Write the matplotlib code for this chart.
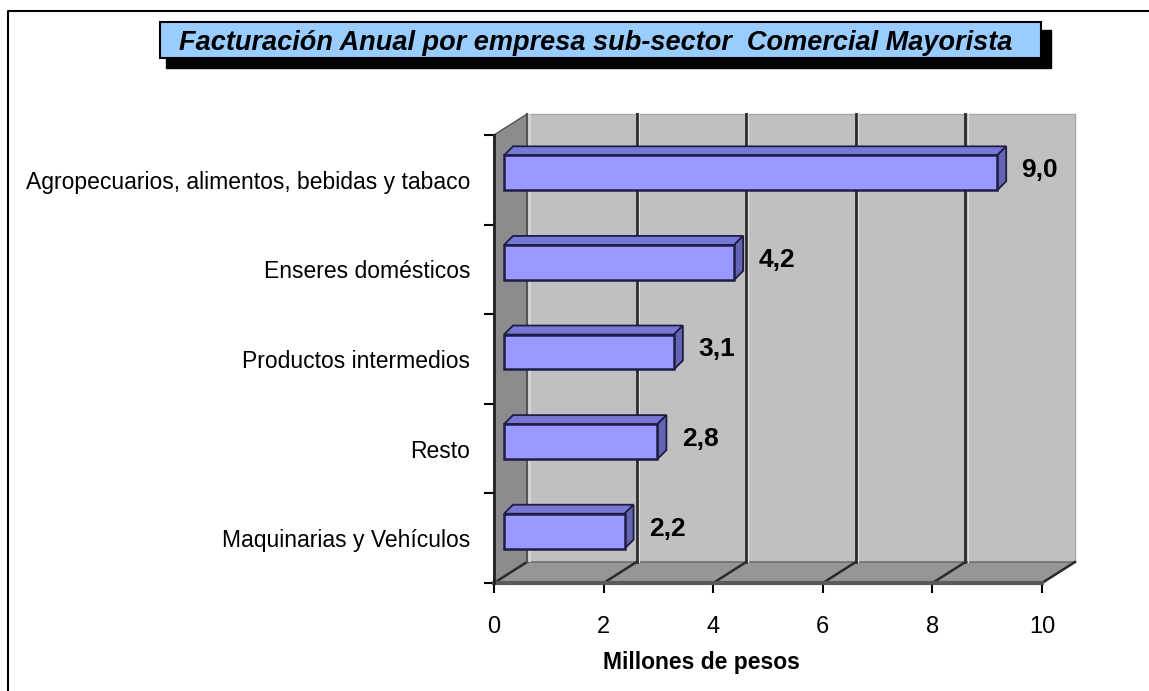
import matplotlib
matplotlib.use("Agg")
import matplotlib.pyplot as plt
from matplotlib.patches import Polygon, Rectangle
import numpy as np

plt.rcParams['font.family'] = ['Liberation Sans', 'DejaVu Sans']

# data, bottom to top
categories = ["Maquinarias y Vehículos", "Resto", "Productos intermedios",
              "Enseres domésticos", "Agropecuarios, alimentos, bebidas y tabaco"]
values = [2.2, 2.8, 3.1, 4.2, 9.0]
value_labels = ["2,2", "2,8", "3,1", "4,2", "9,0"]
x_ticks = [0, 2, 4, 6, 8, 10]
title = "Facturación Anual por empresa sub-sector  Comercial Mayorista"
x_label = "Millones de pesos"

W, H = 1149, 691
fig = plt.figure(figsize=(W / 100, H / 100), dpi=100)

# overlay for frame and title box (pixel coordinates)
deco = fig.add_axes([0, 0, 1, 1])
deco.set_xlim(0, W)
deco.set_ylim(H, 0)
deco.axis("off")
deco.plot([8, 8, W + 5], [H + 5, 11, 11], color="black", lw=1.5)
deco.add_patch(Rectangle((166, 30), 885, 38, facecolor="black", edgecolor="black"))
deco.add_patch(Rectangle((160, 22), 881, 36, facecolor="#99CCFF", edgecolor="black", lw=1.5))
deco.text(596, 42.5, title, ha="center", va="center", fontsize=19.5,
          fontweight="bold", fontstyle="italic")

# front plane of the 3d plot
x0, x1, yb, yt = 494, 1042, 583, 135
ax = fig.add_axes([x0 / W, 1 - yb / H, (x1 - x0) / W, (yb - yt) / H])
ax.set_xlim(0, 10)
ax.set_ylim(-0.5, 4.5)
px_x = (x1 - x0) / 10.0
px_y = (yb - yt) / 5.0
DX, DY = 33 / px_x, 21 / px_y          # wall depth
for s in ax.spines.values():
    s.set_visible(False)
ax.patch.set_alpha(0)

lo, hi = -0.5, 4.5
# back wall
ax.add_patch(Polygon([(DX, lo + DY), (10 + DX, lo + DY), (10 + DX, hi + DY), (DX, hi + DY)],
                     closed=True, facecolor="#C0C0C0", edgecolor="#A8A8A8", lw=1, clip_on=False, zorder=1))
ax.add_patch(Polygon([(DX, lo + DY), (DX + 0.08, lo + DY), (DX + 0.08, hi + DY), (DX, hi + DY)],
                     closed=True, facecolor="#D4D4D4", edgecolor="none", clip_on=False, zorder=1.1))
# left wall
ax.add_patch(Polygon([(0, lo), (DX, lo + DY), (DX, hi + DY), (0, hi)],
                     closed=True, facecolor="#8C8C8C", edgecolor="#555555", lw=1, clip_on=False, zorder=1))
# floor
ax.add_patch(Polygon([(0, lo), (10, lo), (10 + DX, lo + DY), (DX, lo + DY)],
                     closed=True, facecolor="#969696", edgecolor="#666666", lw=1, clip_on=False, zorder=1))

# grid lines on back wall and floor
for t in x_ticks:
    if 0 < t < 10:
        ax.plot([t + DX, t + DX], [lo + DY, hi + DY], color="#2A2A2A", lw=2, clip_on=False, zorder=2)
        ax.plot([t + DX + 0.04, t + DX + 0.04], [lo + DY, hi + DY], color="#E0E0E0", lw=0.8,
                clip_on=False, zorder=2)
    ax.plot([t, t + DX], [lo, lo + DY], color="#2A2A2A", lw=1.8, clip_on=False, zorder=2)
ax.plot([DX, DX], [lo + DY, hi + DY], color="#555555", lw=1.5, clip_on=False, zorder=2)
ax.plot([0, 10], [lo, lo], color="#5A5A5A", lw=3, clip_on=False, zorder=3)
ax.plot([0, 0], [lo, hi], color="#222222", lw=2, clip_on=False, zorder=3)

# 3d bars
bfx, bfy = 10 / px_x, 7 / px_y         # front face offset into the box
bdx, bdy = 9 / px_x, 9 / px_y          # bar depth
bh = 0.39
edge = "#1E1E44"
for i, (v, lab) in enumerate(zip(values, value_labels)):
    xl, xr = bfx, v + bfx
    yl, yh = i - bh / 2 + bfy, i + bh / 2 + bfy
    ax.add_patch(Polygon([(xl, yh), (xr, yh), (xr + bdx, yh + bdy), (xl + bdx, yh + bdy)],
                         closed=True, facecolor="#7777D6", edgecolor=edge, lw=1.3, zorder=4, clip_on=False))
    ax.add_patch(Polygon([(xr, yl), (xr + bdx, yl + bdy), (xr + bdx, yh + bdy), (xr, yh)],
                         closed=True, facecolor="#6464B4", edgecolor=edge, lw=1.3, zorder=4, clip_on=False))
    ax.add_patch(Rectangle((xl, yl), v, bh, facecolor="#9999FF", edgecolor=edge, lw=1.8,
                           zorder=5, clip_on=False))
    ax.text(xr + bdx + 0.28, i + bfy + 0.03, lab, ha="left", va="center", fontsize=19,
            fontweight="bold", zorder=6)

# ticks
ax.set_xticks(x_ticks)
ax.set_xticklabels([str(t) for t in x_ticks], fontsize=17)
ax.tick_params(axis="x", direction="out", length=7, width=1.5, pad=17)
ax.set_yticks(np.arange(-0.5, 5, 1.0))
ax.set_yticklabels([])
ax.set_yticks(np.arange(len(categories)), minor=True)
ax.set_yticklabels(categories, minor=True, fontsize=16.5)
ax.tick_params(axis="y", which="major", direction="out", length=7, width=1.5)
ax.tick_params(axis="y", which="minor", length=0, pad=17)

fig.text(701 / W, 1 - 663 / H, x_label, ha="center", va="center", fontsize=16.5, fontweight="bold")

fig.savefig("out.png", dpi=100)
